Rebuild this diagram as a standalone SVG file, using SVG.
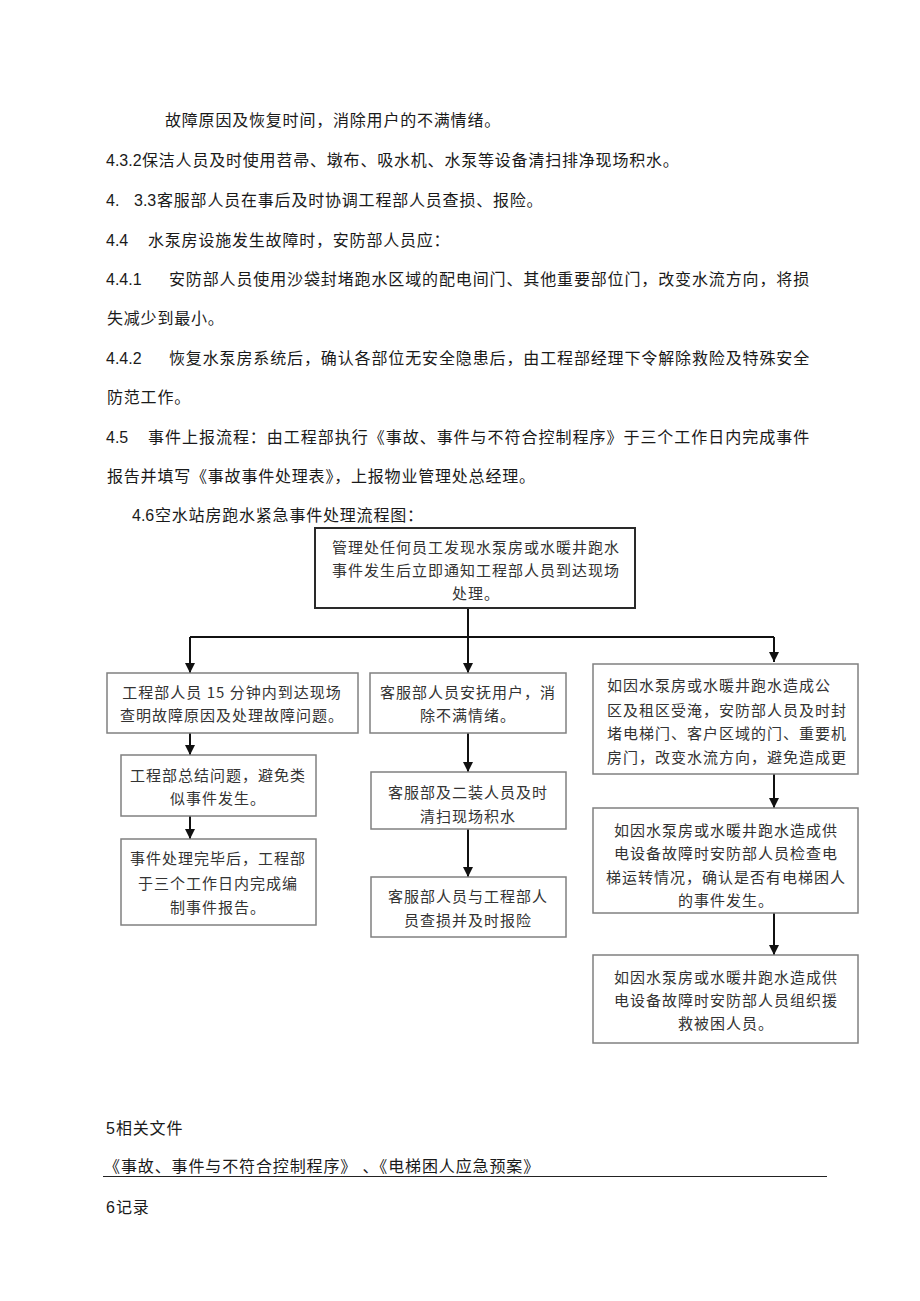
<svg xmlns="http://www.w3.org/2000/svg" width="920" height="1301" viewBox="0 0 920 1301">
<defs>
<style>
.b{font-family:"Liberation Sans","Noto Sans CJK SC",sans-serif;font-size:16px;letter-spacing:0.8px;fill:#1a1a1a}
.n{font-family:"Liberation Sans",sans-serif;font-size:16px;fill:#1a1a1a}
.t{font-family:"Noto Sans CJK SC",sans-serif;font-size:15px;letter-spacing:1px;fill:#333}
.c{text-anchor:middle}
.box{fill:#fff;stroke:#808080;stroke-width:1.5}
.top{fill:#fff;stroke:#2a2a2a;stroke-width:2}
.ln{stroke:#111;stroke-width:2;fill:none}
</style>
<marker id="ah" markerUnits="userSpaceOnUse" markerWidth="10" markerHeight="10" refX="10" refY="5" orient="auto">
<path d="M0,0 L10,5 L0,10 z" fill="#111"/>
</marker>
</defs>
<rect width="920" height="1301" fill="#fff"/>

<g id="body-text">
<text class="b" x="165" y="126">故障原因及恢复时间，消除用户的不满情绪。</text>
<text class="n" x="106" y="166">4.3.2</text>
<text class="b" x="142" y="166">保洁人员及时使用苕帚、墩布、吸水机、水泵等设备清扫排净现场积水。</text>
<text class="n" x="106" y="206">4.</text>
<text class="n" x="134" y="206">3.3</text>
<text class="b" x="157" y="206">客服部人员在事后及时协调工程部人员查损、报险。</text>
<text class="n" x="106" y="246">4.4</text>
<text class="b" x="148" y="246">水泵房设施发生故障时，安防部人员应：</text>
<text class="n" x="106" y="285">4.4.1</text>
<text class="b" x="169" y="285" textLength="641" lengthAdjust="spacing">安防部人员使用沙袋封堵跑水区域的配电间门、其他重要部位门，改变水流方向，将损</text>
<text class="b" x="107" y="324">失减少到最小。</text>
<text class="n" x="106" y="364">4.4.2</text>
<text class="b" x="169" y="364" textLength="641" lengthAdjust="spacing">恢复水泵房系统后，确认各部位无安全隐患后，由工程部经理下令解除救险及特殊安全</text>
<text class="b" x="107" y="403">防范工作。</text>
<text class="n" x="106" y="443">4.5</text>
<text class="b" x="148" y="443" textLength="662" lengthAdjust="spacing">事件上报流程：由工程部执行《事故、事件与不符合控制程序》于三个工作日内完成事件</text>
<text class="b" x="107" y="482">报告并填写《事故事件处理表》，上报物业管理处总经理。</text>
<text class="n" x="132" y="521">4.6</text>
<text class="b" x="155" y="521">空水站房跑水紧急事件处理流程图：</text>
</g>

<g id="connectors">
<polyline class="ln" points="468,608 468,637"/>
<polyline class="ln" points="190,637 774,637"/>
<line class="ln" x1="190" y1="637" x2="190" y2="673" marker-end="url(#ah)"/>
<line class="ln" x1="468" y1="637" x2="468" y2="673" marker-end="url(#ah)"/>
<line class="ln" x1="774" y1="637" x2="774" y2="662" marker-end="url(#ah)"/>
<line class="ln" x1="190" y1="733" x2="190" y2="755" marker-end="url(#ah)"/>
<line class="ln" x1="190" y1="816" x2="190" y2="839" marker-end="url(#ah)"/>
<line class="ln" x1="468" y1="733" x2="468" y2="772" marker-end="url(#ah)"/>
<line class="ln" x1="468" y1="829" x2="468" y2="877" marker-end="url(#ah)"/>
<line class="ln" x1="774" y1="774" x2="774" y2="808" marker-end="url(#ah)"/>
<line class="ln" x1="774" y1="913" x2="774" y2="955" marker-end="url(#ah)"/>
</g>

<g id="n-top">
<rect class="top" x="315" y="528" width="320" height="80"/>
<text class="t c" x="476" y="553">管理处任何员工发现水泵房或水暖井跑水</text>
<text class="t c" x="476" y="576">事件发生后立即通知工程部人员到达现场</text>
<text class="t c" x="476" y="599">处理。</text>
</g>

<g id="n-eng1">
<rect class="box" x="107" y="673" width="251" height="60"/>
<text class="t c" x="232" y="698">工程部人员 15 分钟内到达现场</text>
<text class="t c" x="232" y="721">查明故障原因及处理故障问题。</text>
</g>

<g id="n-eng2">
<rect class="box" x="121" y="755" width="195" height="61"/>
<text class="t c" x="218" y="781">工程部总结问题，避免类</text>
<text class="t c" x="218" y="804">似事件发生。</text>
</g>

<g id="n-eng3">
<rect class="box" x="121" y="839" width="195" height="86"/>
<text class="t c" x="218" y="864">事件处理完毕后，工程部</text>
<text class="t c" x="218" y="889">于三个工作日内完成编</text>
<text class="t c" x="218" y="913">制事件报告。</text>
</g>

<g id="n-cs1">
<rect class="box" x="370" y="673" width="196" height="60"/>
<text class="t c" x="468" y="698">客服部人员安抚用户，消</text>
<text class="t c" x="468" y="721">除不满情绪。</text>
</g>

<g id="n-cs2">
<rect class="box" x="371" y="772" width="195" height="57"/>
<text class="t c" x="468" y="798">客服部及二装人员及时</text>
<text class="t c" x="468" y="822">清扫现场积水</text>
</g>

<g id="n-cs3">
<rect class="box" x="371" y="877" width="195" height="60"/>
<text class="t c" x="468" y="902">客服部人员与工程部人</text>
<text class="t c" x="468" y="926">员查损并及时报险</text>
</g>

<g id="n-sec1">
<rect class="box" x="593" y="664" width="265" height="110"/>
<text class="t" x="607" y="691">如因水泵房或水暖井跑水造成公</text>
<text class="t" x="607" y="716">区及租区受淹，安防部人员及时封</text>
<text class="t" x="607" y="739">堵电梯门、客户区域的门、重要机</text>
<text class="t" x="607" y="763">房门，改变水流方向，避免造成更</text>
</g>

<g id="n-sec2">
<rect class="box" x="593" y="808" width="265" height="105"/>
<text class="t c" x="726" y="836">如因水泵房或水暖井跑水造成供</text>
<text class="t c" x="726" y="859">电设备故障时安防部人员检查电</text>
<text class="t c" x="726" y="883">梯运转情况，确认是否有电梯困人</text>
<text class="t c" x="726" y="906">的事件发生。</text>
</g>

<g id="n-sec3">
<rect class="box" x="593" y="955" width="265" height="88"/>
<text class="t c" x="726" y="983">如因水泵房或水暖井跑水造成供</text>
<text class="t c" x="726" y="1006">电设备故障时安防部人员组织援</text>
<text class="t c" x="726" y="1029">救被困人员。</text>
</g>

<g id="footer">
<text class="n" x="106" y="1134">5</text>
<text class="b" x="116" y="1134">相关文件</text>
<text class="b" x="104" y="1172" textLength="436" lengthAdjust="spacing">《事故、事件与不符合控制程序》 、《电梯困人应急预案》</text>
<line x1="103" y1="1176.5" x2="827" y2="1176.5" stroke="#222" stroke-width="1.2"/>
<text class="n" x="106" y="1213">6</text>
<text class="b" x="116" y="1213">记录</text>
</g>
</svg>
